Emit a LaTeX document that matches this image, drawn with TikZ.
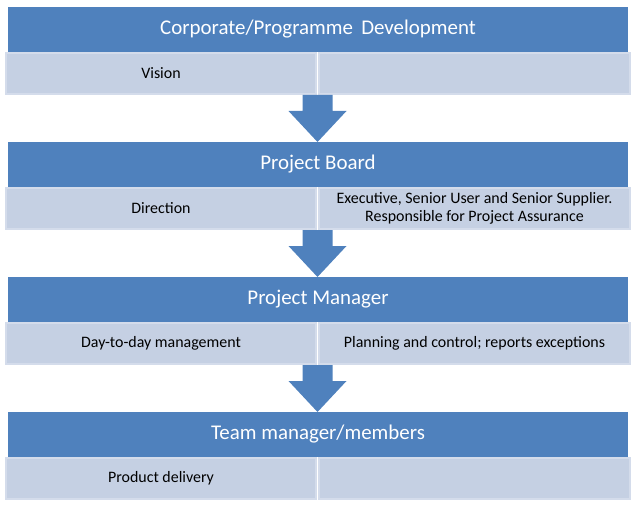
\documentclass[tikz,border=0pt]{standalone}
\usepackage{fontspec}
\setmainfont{Carlito}
\usetikzlibrary{calc}
\definecolor{hdr}{RGB}{79,129,189}
\definecolor{cellfill}{RGB}{197,208,227}
\definecolor{cellline}{RGB}{212,220,235}
\newcommand\blockarrow[2]{%
  \fill[hdr] let \p1=(#1), \p2=(#2) in
    (\x1-15bp,\y1) -- (\x1+15bp,\y1) -- (\x1+15bp,\y1-16bp) -- (\x1+29bp,\y1-16bp)
    -- (\x1,\y2) -- (\x1-29bp,\y1-16bp) -- (\x1-15bp,\y1-16bp) -- cycle;}
\begin{document}
\begin{tikzpicture}[x=1bp,y=-1bp,
  hdrbox/.style={fill=hdr, draw=none, minimum width=620bp, minimum height=45bp,
    inner sep=0pt, outer sep=0pt, text=white, font=\fontsize{21}{24}\selectfont, anchor=north west},
  cellbox/.style={fill=cellfill, draw=cellline, line width=2bp, minimum height=41bp,
    inner sep=0pt, outer sep=0pt, anchor=north west, font=\fontsize{16}{17.5}\selectfont, align=center},
  leftcell/.style={cellbox, minimum width=310bp},
  rightcell/.style={cellbox, minimum width=311bp}]
\useasboundingbox (0,0) rectangle (639,509);
% block 1
\node[hdrbox] (h1) at (8,7) {Corporate/Programme\, Development};
\node[leftcell] (c1l) at (6,53) {Vision};
\node[rightcell] (c1r) at (319,53) {};
% block 2
\node[hdrbox] (h2) at (8,142) {Project Board};
\node[leftcell] (c2l) at (6,188) {Direction};
\node[rightcell] (c2r) at (319,188) {Executive, Senior User and Senior Supplier.\\Responsible for Project Assurance};
% block 3
\node[hdrbox] (h3) at (8,277) {Project Manager};
\node[leftcell] (c3l) at (6,323) {Day-to-day management};
\node[rightcell] (c3r) at (319,323) {Planning and control; reports exceptions};
% block 4
\node[hdrbox] (h4) at (8,412) {Team manager/members};
\node[leftcell] (c4l) at (6,458) {Product delivery};
\node[rightcell] (c4r) at (319,458) {};
% arrows
\coordinate (a1) at ($(c1l.south east)!.5!(c1r.south west)+(0,1)$);
\coordinate (a2) at ($(c2l.south east)!.5!(c2r.south west)+(0,1)$);
\coordinate (a3) at ($(c3l.south east)!.5!(c3r.south west)+(0,1)$);
\blockarrow{a1}{h2.north}
\blockarrow{a2}{h3.north}
\blockarrow{a3}{h4.north}
\end{tikzpicture}
\end{document}
